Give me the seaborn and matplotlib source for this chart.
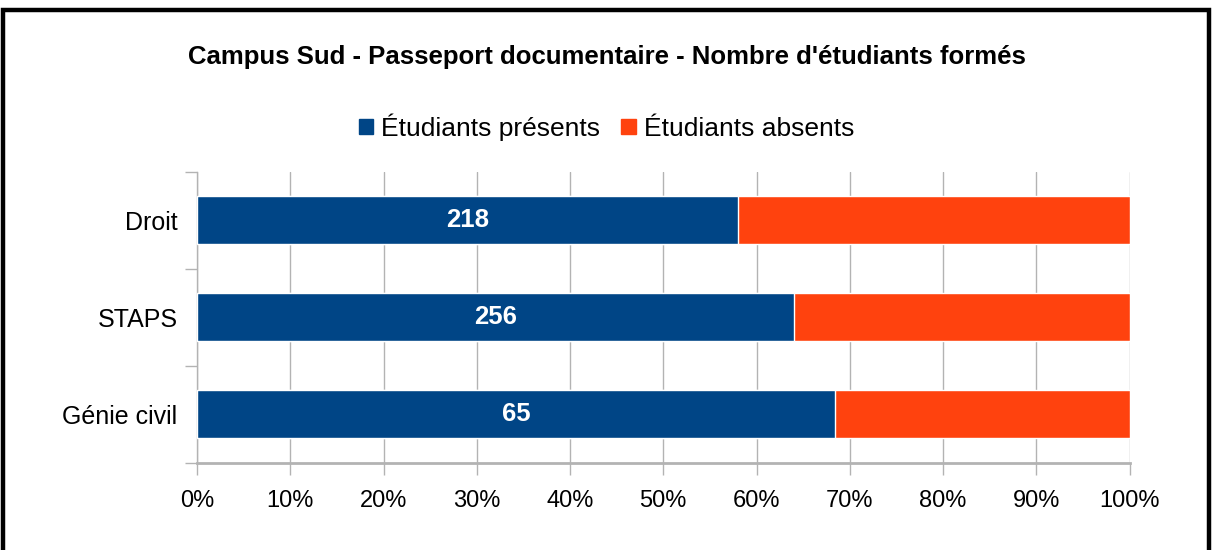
import pandas as pd
import matplotlib.pyplot as plt
import seaborn as sns
from matplotlib.patches import Patch, Rectangle

# Data
categories = ["Droit", "STAPS", "Génie civil"]
presents = [218, 256, 65]
absents = [158, 144, 30]
xticks = [0, 10, 20, 30, 40, 50, 60, 70, 80, 90, 100]

blue = "#004586"
orange = "#ff420e"
grid_gray = "#b3b3b3"

df = pd.DataFrame({"categorie": categories, "presents": presents, "absents": absents})
df["total"] = df["presents"] + df["absents"]
df["pct_presents"] = df["presents"] / df["total"] * 100
df["pct_total"] = 100.0

sns.set_theme(style="white")
plt.rcParams["font.family"] = ["Liberation Sans", "DejaVu Sans"]
plt.rcParams["text.color"] = "black"

fig = plt.figure(figsize=(12.13, 5.5), dpi=100)
ax = fig.add_axes([0.1624, 0.1587, 0.9312 - 0.1624, 0.6878 - 0.1587])

# -----------------------------
# 100% stacked bars
# -----------------------------
sns.barplot(data=df, x="pct_total", y="categorie", color=orange, width=0.5,
            saturation=1, orient="h", ax=ax, zorder=2)
sns.barplot(data=df, x="pct_presents", y="categorie", color=blue, width=0.5,
            saturation=1, orient="h", ax=ax, zorder=3)

for i, row in df.iterrows():
    ax.text(row["pct_presents"] / 2, i, str(row["presents"]), color="white",
            fontsize=18.5, fontweight="bold", ha="center", va="center", zorder=4)

ax.set_xlim(0, 100)
ax.set_ylim(2.5, -0.5)
ax.set_xticks(xticks)
ax.set_xticklabels([f"{v}%" for v in xticks], fontsize=17)
ax.set_yticks(range(len(categories)))
ax.set_yticklabels(categories, fontsize=18)
ax.set_yticks([-0.5, 0.5, 1.5, 2.5], minor=True)
ax.set_xlabel("")
ax.set_ylabel("")

ax.grid(axis="x", color=grid_gray, linewidth=1, zorder=0)
ax.set_axisbelow(True)
ax.tick_params(axis="y", which="major", length=0, pad=14, labelcolor="black")
ax.tick_params(axis="y", which="minor", left=True, length=8.5, width=1,
               color=grid_gray, direction="out")
ax.tick_params(axis="x", bottom=True, length=8.5, width=1, color=grid_gray,
               direction="out", pad=11, labelcolor="black")

for side in ["top", "right"]:
    ax.spines[side].set_visible(False)
ax.spines["left"].set_color(grid_gray)
ax.spines["left"].set_linewidth(1)
ax.spines["bottom"].set_color(grid_gray)
ax.spines["bottom"].set_linewidth(2)

# -----------------------------
# Title, legend, frame
# -----------------------------
fig.text(0.5, 0.896, "Campus Sud - Passeport documentaire - Nombre d'étudiants formés",
         ha="center", va="center", fontsize=18.5, fontweight="bold", color="black")

handles = [Patch(color=blue, label="Étudiants présents"),
           Patch(color=orange, label="Étudiants absents")]
fig.legend(handles=handles, loc="center", bbox_to_anchor=(0.5, 0.769), ncol=2,
           frameon=False, fontsize=19, handlelength=0.55, handleheight=0.55,
           handletextpad=0.3, columnspacing=0.8, labelcolor="black")

fig.add_artist(Rectangle((2.5 / 1213, -0.1), (1208.7 - 2.5) / 1213, 1.1 - 10 / 550,
                         transform=fig.transFigure, fill=False, edgecolor="black",
                         linewidth=3.2, clip_on=False))

fig.savefig("out.png", dpi=100)
